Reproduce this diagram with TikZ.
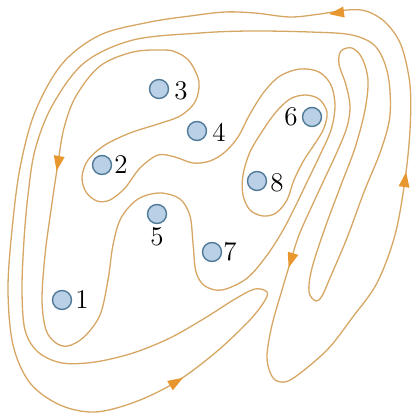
\documentclass[tikz,border=0pt]{standalone}
\usepackage{xcolor}
\definecolor{curvecol}{RGB}{214,166,100}
\definecolor{arrcol}{RGB}{232,150,48}
\definecolor{ptfill}{RGB}{185,208,230}
\definecolor{ptdraw}{RGB}{80,122,152}
\begin{document}
\begin{tikzpicture}[x=0.5pt,y=-0.5pt,
  curve/.style={draw=curvecol, line width=0.65pt},
  pt/.style={circle, draw=ptdraw, fill=ptfill, line width=0.7pt, minimum size=9.5pt, inner sep=0pt},
  lbl/.style={font=\fontsize{13.5}{16}\selectfont, inner sep=0pt},
  arrowhead/.pic={\fill[arrcol] (8,0) -- (-7,5.5) -- (-7,-5.5) -- cycle;}]
\useasboundingbox (0,0) rectangle (414,414);
% outer system
\draw[curve] plot[smooth cycle, tension=0.55] coordinates {
 (347,10) (320,14) (290,17) (255,13) (225,12) (190,16) (150,22) (100,35) (62,64) (35,112) (20,168) (12,230) (8,290) (13,345) (30,383) (60,405) (95,412) (135,402) (176,382) (215,353) (248,322) (264,302) (267,292) (255,289) (235,299) (205,318) (170,338) (133,353) (95,362) (62,363) (38,352) (25,330) (22,290) (24,240) (28,195) (35,150) (52,106) (84,63) (133,40) (200,33) (250,31) (310,32) (352,35) (376,47) (388,75) (390,115) (381,150) (364,192) (347,238) (330,278) (322,296) (316,301) (309,292) (312,268) (325,228) (341,185) (355,148) (365,110) (368,80) (362,58) (352,48) (341,51) (339,64) (346,85) (350,106) (347,127) (337,152) (324,180) (311,208) (299,235) (291,260) (282,290) (272,325) (267,355) (270,372) (277,381) (292,379) (327,350) (352,318) (377,283) (395,235) (405,180) (410,130) (410,85) (401,45) (385,22) (366,11)};
% inner curve
\draw[curve] plot[smooth cycle, tension=0.55] coordinates {
 (165,50) (133,52) (100,66) (76,96) (64,128) (58,163) (51,210) (45,255) (42,300) (46,330) (56,343) (68,346) (84,337) (100,315) (108,280) (113,245) (121,218) (138,199) (160,193) (180,199) (190,216) (193,243) (196,272) (205,286) (222,290) (246,279) (265,258) (282,232) (296,205) (308,180) (320,155) (331,130) (335,106) (331,85) (319,72) (300,69) (280,76) (264,92) (250,114) (238,137) (225,152) (210,161) (193,163) (175,157) (158,155) (140,168) (125,188) (110,200) (97,201) (86,192) (82,177) (88,160) (105,145) (130,133) (158,124) (180,116) (195,102) (199,82) (190,62) (178,53)};
% loop round 6 and 8
\draw[curve] plot[smooth cycle, tension=0.55] coordinates {
 (305,95) (319,99) (327,112) (324,128) (316,142) (304,160) (294,180) (287,200) (276,213) (263,216) (250,210) (243,195) (243,175) (250,152) (263,130) (276,112) (290,99)};
% arrowheads
\pic[rotate=188] at (337,13) {arrowhead};
\pic[rotate=260] at (58,163) {arrowhead};
\pic[rotate=31] at (176,382) {arrowhead};
\pic[rotate=82] at (405,180) {arrowhead};
\pic[rotate=253] at (291,260) {arrowhead};
% points
\node[pt] (p1) at (62,300) {};
\node[pt] (p2) at (102,165) {};
\node[pt] (p3) at (159,89) {};
\node[pt] (p4) at (197,131) {};
\node[pt] (p5) at (157,214) {};
\node[pt] (p6) at (312,117) {};
\node[pt] (p7) at (212,252) {};
\node[pt] (p8) at (257,181) {};
\node[lbl] (l1) at (82,300) {1};
\node[lbl] (l2) at (121,165) {2};
\node[lbl] (l3) at (181,91) {3};
\node[lbl] (l4) at (219,132) {4};
\node[lbl] (l5) at (157,237) {5};
\node[lbl] (l6) at (291,117) {6};
\node[lbl] (l7) at (230,252) {7};
\node[lbl] (l8) at (277,183) {8};
\end{tikzpicture}
\end{document}
